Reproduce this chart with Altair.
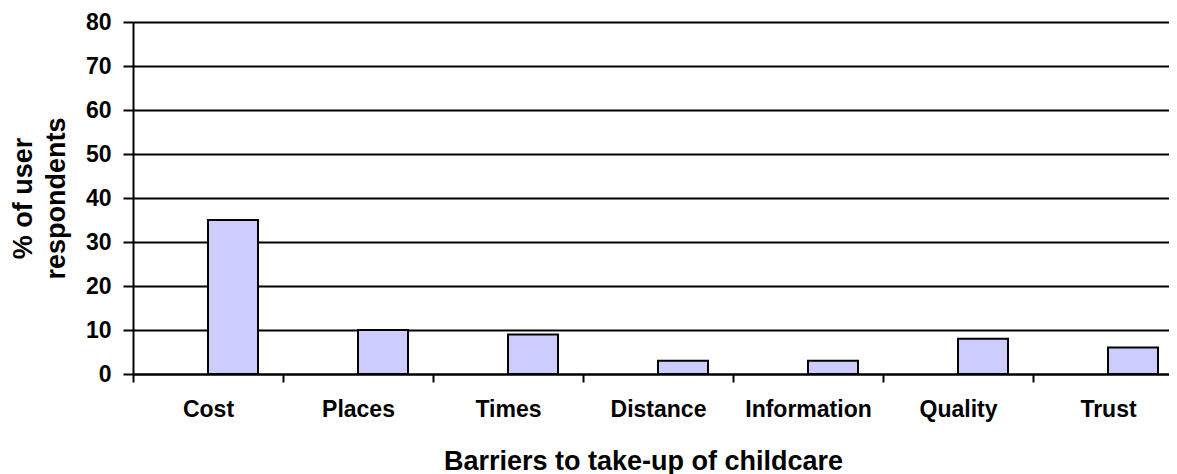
import altair as alt
import pandas as pd

categories = ["Cost", "Places", "Times", "Distance", "Information", "Quality", "Trust"]
values = [35, 10, 9, 3, 3, 8, 6]
series = ["blank", "users"]
y_ticks = [0, 10, 20, 30, 40, 50, 60, 70, 80]

df = pd.DataFrame({"barrier": categories, "pct": values, "series": "users"})

FONT = "Liberation Sans"

chart = (
    alt.Chart(df)
    .mark_bar(fill="#CCCCFF", stroke="black", strokeWidth=2, strokeJoin="miter")
    .encode(
        x=alt.X(
            "barrier:N",
            sort=categories,
            scale=alt.Scale(domain=categories, range=[0, 1050], paddingInner=0, paddingOuter=0),
            axis=alt.Axis(
                title="Barriers to take-up of childcare",
                labelAngle=0,
                labelFont=FONT,
                labelFontWeight="bold",
                labelFontSize=23,
                labelColor="black",
                labelPadding=16,
                tickBand="extent",
                tickColor="black",
                tickWidth=2,
                tickSize=8,
                domainColor="black",
                domainWidth=2,
                titleFont=FONT,
                titleFontWeight="bold",
                titleFontSize=27,
                titleColor="black",
                titleX=510,
                titleY=95,
                titleAlign="center",
                titleBaseline="alphabetic",
            ),
        ),
        xOffset=alt.XOffset(
            "series:N",
            scale=alt.Scale(domain=series, paddingInner=0, paddingOuter=0.5),
        ),
        y=alt.Y(
            "pct:Q",
            scale=alt.Scale(domain=[0, 80], nice=False),
            axis=alt.Axis(
                title=["% of user", "respondents"],
                values=y_ticks,
                labelFont=FONT,
                labelFontWeight="bold",
                labelFontSize=23,
                labelColor="black",
                labelPadding=12,
                tickColor="black",
                tickWidth=2,
                tickSize=10,
                domainColor="black",
                domainWidth=2,
                grid=True,
                gridColor="black",
                gridWidth=2,
                gridOpacity=1,
                titleFont=FONT,
                titleFontWeight="bold",
                titleFontSize=27,
                titleColor="black",
                titleLineHeight=33,
                titleX=-102,
                titleY=176,
                titleAngle=270,
                titleAlign="center",
                titleBaseline="alphabetic",
            ),
        ),
    )
    .properties(
        width=1036,
        height=352,
        autosize=alt.AutoSizeParams(type="none"),
        padding={"left": 125, "top": 14, "right": 0, "bottom": 100},
    )
    .configure_view(stroke=None)
    .configure(background="white")
)

chart.save("out.html", embed_options={"renderer": "svg", "actions": False})
